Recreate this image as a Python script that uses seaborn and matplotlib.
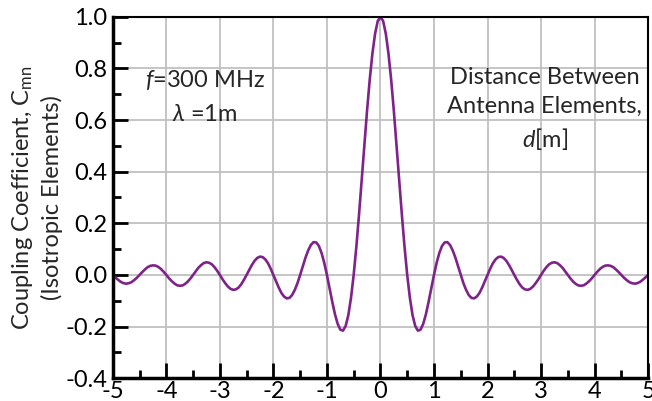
import numpy as np
import matplotlib
matplotlib.use("Agg")
import matplotlib.pyplot as plt
from matplotlib.ticker import MultipleLocator
import seaborn as sns

# Coupling coefficient for d >= 0 (step 0.05 m).
# The curve is symmetric about d = 0, so the negative side is mirrored.
d_pos = np.round(np.arange(0, 101) * 0.05, 2)
c_pos = [
    1.000, 0.984, 0.935, 0.858, 0.757, 0.637, 0.505, 0.368, 0.234, 0.109,
    0.000, -0.089, -0.156, -0.198, -0.216, -0.212, -0.189, -0.152, -0.104, -0.052,
    0.000, 0.047, 0.085, 0.112, 0.126, 0.127, 0.116, 0.095, 0.067, 0.034,
    0.000, -0.032, -0.058, -0.078, -0.089, -0.091, -0.084, -0.070, -0.049, -0.025,
    0.000, 0.024, 0.045, 0.060, 0.069, 0.071, 0.066, 0.055, 0.039, 0.020,
    0.000, -0.019, -0.036, -0.049, -0.056, -0.058, -0.054, -0.045, -0.032, -0.017,
    0.000, 0.016, 0.030, 0.041, 0.047, 0.049, 0.046, 0.038, 0.028, 0.014,
    0.000, -0.014, -0.026, -0.035, -0.041, -0.042, -0.040, -0.033, -0.024, -0.013,
    0.000, 0.012, 0.023, 0.031, 0.036, 0.037, 0.035, 0.030, 0.021, 0.011,
    0.000, -0.011, -0.020, -0.028, -0.032, -0.034, -0.032, -0.027, -0.019, -0.010,
    0.000,
]

x_ticks = [-5, -4, -3, -2, -1, 0, 1, 2, 3, 4, 5]
y_ticks = [-0.4, -0.2, 0.0, 0.2, 0.4, 0.6, 0.8, 1.0]

d = np.concatenate([-d_pos[::-1], d_pos[1:]])
c = np.concatenate([np.array(c_pos)[::-1], np.array(c_pos)[1:]])

sns.set_theme(style="white")
plt.rcParams['font.family'] = ['Lato', 'DejaVu Sans']
plt.rcParams['mathtext.fontset'] = 'custom'
plt.rcParams['mathtext.it'] = 'Lato:italic'
plt.rcParams['mathtext.rm'] = 'Lato'

fig = plt.figure(figsize=(6.52, 4.01), dpi=100)
ax = fig.add_axes([0.173, 0.057, 0.821, 0.901])

sns.lineplot(x=d, y=c, ax=ax, color='#7f2289', linewidth=1.9)

ax.set_xlim(-5, 5)
ax.set_ylim(-0.4, 1.0)
ax.set_xticks(x_ticks)
ax.set_yticks(y_ticks)
ax.set_xticklabels([str(v) for v in x_ticks])
ax.set_yticklabels([f"{v:.1f}" for v in y_ticks])
ax.xaxis.set_minor_locator(MultipleLocator(0.5))
ax.yaxis.set_minor_locator(MultipleLocator(0.1))
ax.grid(True, which='major', color='#c0c0c0', linewidth=1.3)
ax.set_axisbelow(True)

ax.tick_params(which='major', direction='in', length=11, width=2, colors='black',
               labelsize=17, left=True, bottom=True)
ax.tick_params(axis='x', which='major', pad=2)
ax.tick_params(axis='y', which='major', pad=4)
ax.tick_params(which='minor', direction='in', length=6, width=2, colors='black',
               left=True, bottom=True)

for side in ['left', 'bottom']:
    ax.spines[side].set_linewidth(2.5)
    ax.spines[side].set_color('black')
for side in ['top', 'right']:
    ax.spines[side].set_linewidth(1.5)
    ax.spines[side].set_color('black')

ax.set_xlabel('')
ax.set_ylabel('Coupling Coefficient, C$_{\\mathrm{mn}}$\n(Isotropic Elements)',
              fontsize=17, linespacing=1.3, labelpad=2)

ax.text(-3.28, 0.756, '$\\mathit{f}$=300 MHz', fontsize=17, ha='center', va='center')
ax.text(-3.28, 0.62, '$\\mathit{\\lambda}$ =1m', fontsize=17, ha='center', va='center')
ax.text(3.07, 0.64, 'Distance Between\nAntenna Elements,\n$\\mathit{d}$[m]',
        fontsize=17, ha='center', va='center', linespacing=1.45)

fig.savefig('out.png', dpi=100)
